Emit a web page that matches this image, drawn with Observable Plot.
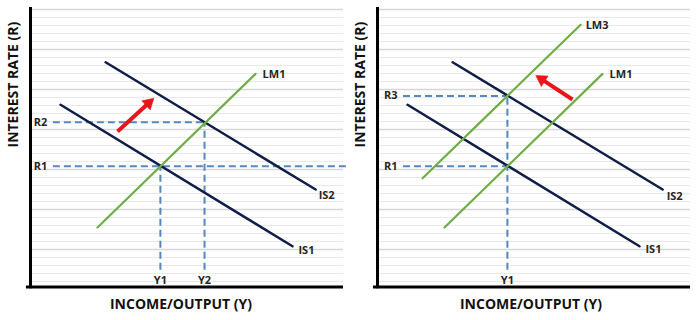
<!DOCTYPE html>
<html>
<head>
<meta charset="utf-8">
<script src="https://cdn.jsdelivr.net/npm/d3@7"></script>
<script src="https://cdn.jsdelivr.net/npm/@observablehq/plot@0.6"></script>
<style>
  html, body { margin: 0; padding: 0; background: #fff; }
  #wrap { display: flex; width: 700px; height: 320px; }
</style>
</head>
<body>
<div id="wrap"></div>
<script>
// ---- data (income units on x, interest-rate units on y) ----
const IS1X = [0.96, 8.37], IS1Y = [23.1, 5.4];
const IS2X = [2.40, 9.11], IS2Y = [28.4, 12.5];
const LM1X = [2.14, 7.19], LM1Y = [7.76, 26.95];
const LM3X = [1.44, 6.49], LM3Y = [13.9, 33.1];

const rateNames = ["R1", "R2", "R3"];
const rateValues = [15.4, 20.9, 24.2];
const incomeNames = ["Y1", "Y2"];
const incomeValues = [4.15, 5.56];

const arrowLeft = [2.78, 19.75, 3.94, 23.9];   // x1, y1, x2, y2 (tail -> tip)
const arrowRight = [6.23, 23.75, 5.06, 26.75];

const gridMajor = [5, 10, 15, 20, 25, 30, 35];
const gridMinor = [1,2,3,4,6,7,8,9,11,12,13,14,16,17,18,19,21,22,23,24,26,27,28,29,31,32,33,34];

const yTitle = "INTEREST RATE (R)";
const xTitle = "INCOME/OUTPUT (Y)";

// ---- styles ----
const NAVY = "#0f1d47", GREEN = "#70ad47", BLUE = "#5488bd", RED = "#e8161b", LABEL = "#262626";
const FONT = "'Open Sans', sans-serif";

const pts = (xs, ys) => xs.map((x, i) => ({x, y: ys[i]}));
const R = Object.fromEntries(rateNames.map((n, i) => [n, rateValues[i]]));
const Y = Object.fromEntries(incomeNames.map((n, i) => [n, incomeValues[i]]));

function curve(name, xs, ys, color, w, dx, dy) {
  const p = pts(xs, ys);
  return [
    Plot.line(p, {x: "x", y: "y", stroke: color, strokeWidth: w}),
    Plot.text([p[p.length - 1]], {x: "x", y: "y", text: () => name, dx, dy, textAnchor: "start",
      fontWeight: "bold", fontSize: 11, fill: LABEL})
  ];
}

// filled-head arrow: shaft + rotated triangle; pixel sizes from the panel's scale factors
function arrowMarks(a, kx, ky) {
  const [x1, y1, x2, y2] = a;
  const sx = (x2 - x1) * kx, sy = -(y2 - y1) * ky;
  const L = Math.hypot(sx, sy), ux = sx / L, uy = sy / L;
  const back = 8;
  const shaft = {x1, y1, x2: x2 - back * ux / kx, y2: y2 + back * uy / ky};
  const angle = Math.atan2(ux, -uy) * 180 / Math.PI;
  return [
    Plot.link([shaft], {x1: "x1", y1: "y1", x2: "x2", y2: "y2", stroke: RED, strokeWidth: 4}),
    Plot.dot([{x: x2, y: y2}], {x: "x", y: "y", symbol: "triangle", r: 4.6, fill: RED, stroke: RED,
      strokeWidth: 0.5, rotate: angle, dx: -7 * ux, dy: -7 * uy})
  ];
}

function panel({marginLeft, marginRight, curves, hDashes, vDashes, rLabels, yLabels, arrow, dashStart, xTitleDx}) {
  const dash = {stroke: BLUE, strokeWidth: 2, strokeDasharray: "7,4"};
  const kx = (350 - marginLeft - marginRight) / 10, ky = (320 - 9 - 31) / 35;
  return Plot.plot({
    width: 350, height: 320,
    marginLeft, marginRight, marginTop: 9, marginBottom: 31,
    x: {domain: [0, 10], axis: null},
    y: {domain: [0, 35], axis: null},
    style: {fontFamily: FONT, background: "#fff"},
    marks: [
      Plot.ruleY(gridMinor, {x1: 0, x2: 10, stroke: "#e9e9e9", strokeWidth: 1}),
      Plot.ruleY(gridMajor, {x1: 0, x2: 10, stroke: "#d6d6d6", strokeWidth: 1.6}),
      ...hDashes.map(([r, x2]) => Plot.ruleY([R[r]], {x1: dashStart, x2, ...dash})),
      ...vDashes.map(([yn, r]) => Plot.ruleX([Y[yn]], {y1: 2.4, y2: R[r], ...dash})),
      ...curves.flatMap(c => curve(...c)),
      ...arrowMarks(arrow, kx, ky),
      Plot.text(rLabels, {x: dashStart, y: d => R[d], text: d => d, dx: -6, textAnchor: "end",
        fontWeight: "bold", fontSize: 11, fill: LABEL}),
      Plot.text(yLabels, {x: d => Y[d], y: 1.1, text: d => d,
        fontWeight: "bold", fontSize: 11, fill: LABEL}),
      Plot.ruleX([0], {y1: 0.1, y2: 35.25, stroke: "#000", strokeWidth: 3}),
      Plot.ruleY([0.3], {x1: -0.13, x2: 10, stroke: "#000", strokeWidth: 3}),
      Plot.text([yTitle], {frameAnchor: "left", dx: -17, dy: -2, rotate: -90, text: d => d,
        fontWeight: "bold", fontSize: 14, fill: "#111"}),
      Plot.text([xTitle], {frameAnchor: "bottom", dx: xTitleDx, dy: 19, text: d => d,
        fontWeight: "bold", fontSize: 14, fill: "#111"})
    ]
  });
}

const left = panel({
  marginLeft: 30, marginRight: 7, dashStart: 0.73, xTitleDx: -6,
  curves: [
    ["IS1", IS1X, IS1Y, NAVY, 2.5, 6, 4],
    ["IS2", IS2X, IS2Y, NAVY, 2.5, 3, 6],
    ["LM1", LM1X, LM1Y, GREEN, 2.2, 7, 1]
  ],
  hDashes: [["R1", 10.16], ["R2", Y.Y2]],
  vDashes: [["Y1", "R1"], ["Y2", "R2"]],
  rLabels: ["R1", "R2"], yLabels: ["Y1", "Y2"],
  arrow: arrowLeft
});

const right = panel({
  marginLeft: 27, marginRight: 10, dashStart: 0.83, xTitleDx: -3,
  curves: [
    ["IS1", IS1X, IS1Y, NAVY, 2.5, 6, 3],
    ["IS2", IS2X, IS2Y, NAVY, 2.5, 4, 7],
    ["LM1", LM1X, LM1Y, GREEN, 2.2, 7, 1],
    ["LM3", LM3X, LM3Y, GREEN, 2.2, 5, 1]
  ],
  hDashes: [["R1", Y.Y1], ["R3", Y.Y1]],
  vDashes: [["Y1", "R3"]],
  rLabels: ["R1", "R3"], yLabels: ["Y1"],
  arrow: arrowRight
});

document.getElementById("wrap").append(left, right);
</script>
</body>
</html>
